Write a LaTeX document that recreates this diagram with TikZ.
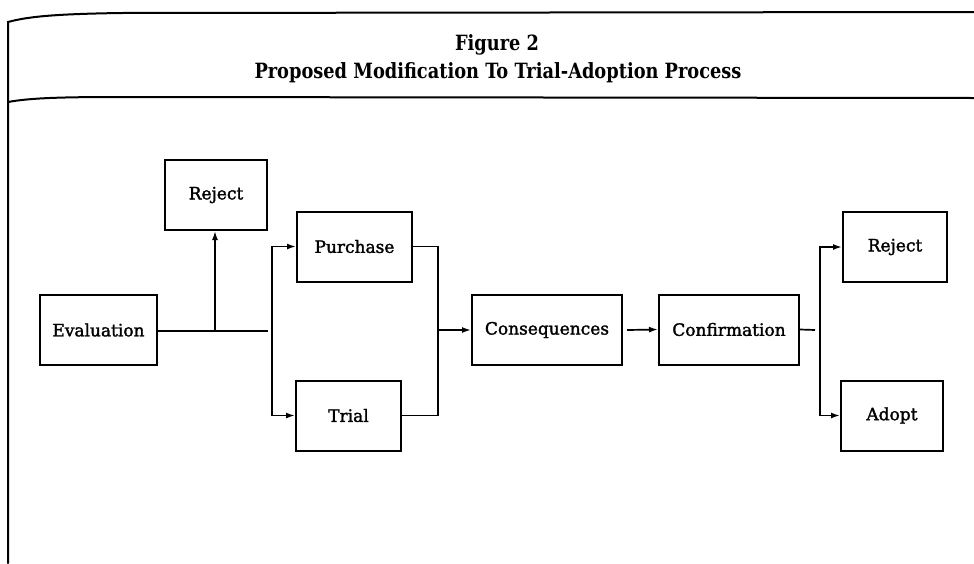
\documentclass[tikz,border=0pt]{standalone}
\usepackage{fontspec}
\setmainfont{DejaVu Serif}[FakeBold=1.8]
\newfontfamily\titlefont{DejaVu Serif Bold}
\usetikzlibrary{arrows.meta}
\newsavebox\titlebox
\begin{document}
\sbox\titlebox{\titlefont\fontsize{21}{23}\selectfont Proposed Modification To Trial-Adoption Process}
\begin{tikzpicture}[x=1pt,y=-1pt,
  box/.style={draw,line width=2pt,minimum height=70pt,inner sep=0pt,font=\fontsize{17}{19}\selectfont},
  conn/.style={line width=1.7pt},
  arr/.style={conn,-{Latex[length=9pt,width=6pt]}},
  frame/.style={line width=2pt,line cap=round},
  ttl/.style={font=\titlefont\fontsize{21}{23}\selectfont,inner sep=0pt}]
\useasboundingbox (0,0) rectangle (974,563);
\pgfmathsetmacro{\tf}{487/\wd\titlebox}
% frame
\draw[frame] (8,563) -- (8,22) .. controls (30,16) and (60,14) .. (120,13) -- (974,12);
\draw[frame] (8,102) .. controls (30,98) and (60,97) .. (120,97) -- (974,98);
\node[ttl] (t1) at (497,45) {\scalebox{\tf}[1]{Figure 2}};
\node[ttl] (t2) at (498,73) {\scalebox{\tf}[1]{Proposed Modification To Trial-Adoption Process}};
% boxes
\node[box,minimum width=117pt] (eval) at (98.5,330) {Evaluation};
\node[box,minimum width=102pt] (rej1) at (216,195) {Reject};
\node[box,minimum width=115pt] (pur) at (354.5,246.5) {Purchase};
\node[box,minimum width=105pt] (trial) at (348.5,415.5) {Trial};
\node[box,minimum width=150pt] (cons) at (547,330) {Consequences};
\node[box,minimum width=140pt] (conf) at (729,329.5) {Confirmation};
\node[box,minimum width=104pt] (rej2) at (895,247) {Reject};
\node[box,minimum width=102pt] (adopt) at (892,415.5) {Adopt};
% coordinates
\coordinate (e1) at (268,331);
\coordinate (br) at (215,331);
\coordinate (v1) at (272,331);
\coordinate (m1) at (438,330);
\coordinate (c1) at (815,330);
\coordinate (v2) at (820,330);
% connectors
\draw[conn] (eval.east |- e1) -- (e1);
\draw[arr] (br) -- (br |- rej1.south);
\draw[arr] (v1) |- (pur.west);
\draw[arr] (v1) |- (trial.west);
\draw[conn] (pur.east) -| (m1);
\draw[conn] (trial.east) -| (m1);
\draw[arr] (m1) -- (cons.west);
\draw[arr] ([xshift=4pt]cons.east) -- (conf.west);
\draw[conn] (conf.east) -- (c1);
\draw[arr] (v2) |- (rej2.west);
\draw[arr] (v2) |- (adopt.west);
\end{tikzpicture}
\end{document}
